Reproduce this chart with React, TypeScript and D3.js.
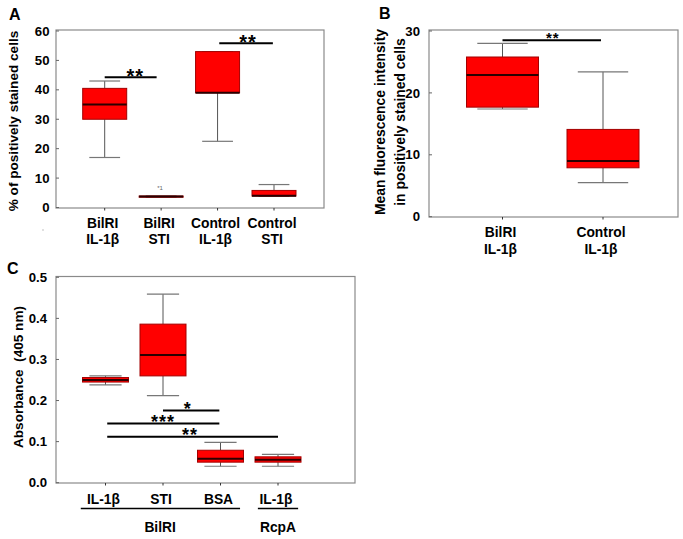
import * as d3 from 'd3'

// box stats: [whisker low, q1, median, q3, whisker high]
const catsA = ['BilRI|IL-1β', 'BilRI|STI', 'Control|IL-1β', 'Control|STI']
const boxesA = [
  [17, 30, 35, 40.5, 43],
  [3.5, 3.5, 3.7, 3.9, 3.9],
  [22.5, 39, 39, 53, 53],
  [3.8, 3.9, 4.0, 5.8, 7.8],
]
const ticksA = [0, 10, 20, 30, 40, 50, 60]
const sigA = [
  { from: 0, to: 0.92, y: 44.3, mid: 0.54, label: '**' },
  { from: 2.03, to: 2.98, y: 55.8, mid: 2.54, label: '**' },
]

const catsB = ['BilRI|IL-1β', 'Control|IL-1β']
const boxesB = [
  [17.4, 17.7, 22.9, 25.8, 28],
  [5.5, 7.9, 9.0, 14.1, 23.4],
]
const ticksB = [0, 10, 20, 30]
const sigB = [{ from: 0, to: 0.98, y: 28.5, mid: 0.5, label: '**' }]

const catsC = ['IL-1β', 'STI', 'BSA', 'IL-1β']
const boxesC = [
  [0.238, 0.245, 0.25, 0.256, 0.26],
  [0.212, 0.26, 0.311, 0.386, 0.459],
  [0.04, 0.05, 0.058, 0.079, 0.098],
  [0.04, 0.05, 0.056, 0.063, 0.069],
]
const ticksC = [0, 0.1, 0.2, 0.3, 0.4, 0.5]
const sigC = [
  { from: 1.0, to: 1.98, y: 0.176, mid: 1.43, label: '*' },
  { from: 0.03, to: 1.98, y: 0.144, mid: 1.0, label: '***' },
  { from: 0.03, to: 3.0, y: 0.112, mid: 1.47, label: '**' },
]
const groupsC = [
  { name: 'BilRI', from: -0.43, to: 2.34, mid: 0.95 },
  { name: 'RcpA', from: 2.65, to: 3.35, mid: 3.0 },
]

const FONT = '"Liberation Sans", Arial, sans-serif'
const FRAME = '#8a8a8a'

type Sig = { from: number; to: number; y: number; mid: number; label: string }

function Panel({ cats, boxes, ticks, sig, x, y, frame, boxW, fmt, tickEnd, labelY, starSize }: {
  cats: string[]; boxes: number[][]; ticks: number[]; sig: Sig[]
  x: d3.ScaleLinear<number, number>; y: d3.ScaleLinear<number, number>
  frame: [number, number, number, number]; boxW: number
  fmt: (v: number) => string; tickEnd: number; labelY: number[] | null; starSize: number
}) {
  const [x0, y0, x1, y1] = frame
  return (
    <g>
      <rect x={x0} y={y0} width={x1 - x0} height={y1 - y0} fill="none" stroke={FRAME} strokeWidth={1.2} />
      {ticks.map(t => (
        <g key={t}>
          <line x1={x0} x2={x0 + 3} y1={y(t)} y2={y(t)} stroke="#666" />
          <text x={tickEnd} y={y(t) + 4.6} textAnchor="end" fontSize={13.2} fontWeight="bold" fontFamily={FONT}>{fmt(t)}</text>
        </g>
      ))}
      {cats.map((c, i) => (
        <line key={'t' + i} x1={x(i)} x2={x(i)} y1={y1} y2={y1 + 2.5} stroke="#333" />
      ))}
      {boxes.map(([lo, q1, med, q3, hi], i) => {
        const cx = x(i)
        return (
          <g key={i}>
            <line x1={cx} x2={cx} y1={y(hi)} y2={y(q3)} stroke="#555" />
            <line x1={cx} x2={cx} y1={y(q1)} y2={y(lo)} stroke="#555" />
            <line x1={cx - boxW * 0.35} x2={cx + boxW * 0.35} y1={y(hi)} y2={y(hi)} stroke="#777" strokeWidth={1.2} />
            <line x1={cx - boxW * 0.35} x2={cx + boxW * 0.35} y1={y(lo)} y2={y(lo)} stroke="#777" strokeWidth={1.2} />
            <rect x={cx - boxW / 2} y={y(q3)} width={boxW} height={Math.max(y(q1) - y(q3), 0.5)}
              fill="#ff0000" stroke="#a30000" strokeWidth={1} />
            <line x1={cx - boxW / 2} x2={cx + boxW / 2} y1={y(med)} y2={y(med)} stroke="#2a0000" strokeWidth={2} />
          </g>
        )
      })}
      {sig.map((s, i) => (
        <g key={'s' + i}>
          <line x1={x(s.from)} x2={x(s.to)} y1={y(s.y)} y2={y(s.y)} stroke="#000" strokeWidth={2} />
          <text x={x(s.mid)} y={y(s.y) - 6 + starSize * 0.58} textAnchor="middle" fontSize={starSize}
            fontWeight="bold" fontFamily={FONT} letterSpacing={1}>{s.label}</text>
        </g>
      ))}
      {labelY && cats.map((c, i) => (
        <text key={'l' + i} textAnchor="middle" fontSize={13.8} fontWeight="bold" fontFamily={FONT}>
          {c.split('|').map((part, j) => (
            <tspan key={j} x={x(i) - 2} y={labelY[j]}>{part}</tspan>
          ))}
        </text>
      ))}
    </g>
  )
}

export default function App() {
  const xA = d3.scaleLinear().domain([0, 3]).range([104.7, 274])
  const yA = d3.scaleLinear().domain([0, 60]).range([207.5, 31])
  const xB = d3.scaleLinear().domain([0, 1]).range([502.5, 603])
  const yB = d3.scaleLinear().domain([0, 30]).range([216.7, 31])
  const xC = d3.scaleLinear().domain([0, 3]).range([105.5, 278])
  const yC = d3.scaleLinear().domain([0, 0.5]).range([482.7, 277.3])

  return (
    <svg width={683} height={539} style={{ position: 'absolute', left: 0, top: 0, background: '#fff' }}>
      {/* Panel A */}
      <text x={9} y={19.5} fontSize={16} fontWeight="bold" fontFamily={FONT}>A</text>
      <Panel cats={catsA} boxes={boxesA} ticks={ticksA} sig={sigA} x={xA} y={yA}
        frame={[56, 30, 324, 208]} boxW={44} fmt={d3.format('d')} tickEnd={49.5}
        labelY={[227.5, 243.5]} starSize={20} />
      <text x={160} y={190} textAnchor="middle" fontSize={6} fill="#666" fontFamily={FONT}>*1</text>
      <circle cx={43} cy={230} r={0.7} fill="#aaa" />
      <text transform="translate(17.5,121) rotate(-90)" textAnchor="middle" fontSize={13.6} fontWeight="bold" fontFamily={FONT}>
        % of positively stained cells
      </text>

      {/* Panel B */}
      <text x={379} y={19} fontSize={16} fontWeight="bold" fontFamily={FONT}>B</text>
      <Panel cats={catsB} boxes={boxesB} ticks={ticksB} sig={sigB} x={xB} y={yB}
        frame={[429, 30, 678, 217]} boxW={72} fmt={d3.format('d')} tickEnd={420}
        labelY={[237, 253.5]} starSize={15} />
      <text transform="translate(384.5,122) rotate(-90)" textAnchor="middle" fontSize={13.9} fontWeight="bold" fontFamily={FONT}>
        Mean fluorescence intensity
      </text>
      <text transform="translate(404.5,122) rotate(-90)" textAnchor="middle" fontSize={13.9} fontWeight="bold" fontFamily={FONT}>
        in positively stained cells
      </text>

      {/* Panel C */}
      <text x={7} y={274} fontSize={16} fontWeight="bold" fontFamily={FONT}>C</text>
      <Panel cats={catsC} boxes={boxesC} ticks={ticksC} sig={sigC} x={xC} y={yC}
        frame={[56, 276.5, 355, 483]} boxW={46} fmt={d3.format('.1f')} tickEnd={47}
        labelY={[504]} starSize={18} />
      {groupsC.map(g => (
        <g key={g.name}>
          <line x1={xC(g.from)} x2={xC(g.to)} y1={508.5} y2={508.5} stroke="#000" strokeWidth={1.6} />
          <text x={xC(g.mid)} y={532} textAnchor="middle" fontSize={13.8} fontWeight="bold" fontFamily={FONT}>{g.name}</text>
        </g>
      ))}
      <text transform="translate(22.5,377) rotate(-90)" textAnchor="middle" fontSize={13.6} fontWeight="bold"
        fontFamily={FONT} style={{ whiteSpace: 'pre' }}>
        {'Absorbance  (405 nm)'}
      </text>
    </svg>
  )
}
